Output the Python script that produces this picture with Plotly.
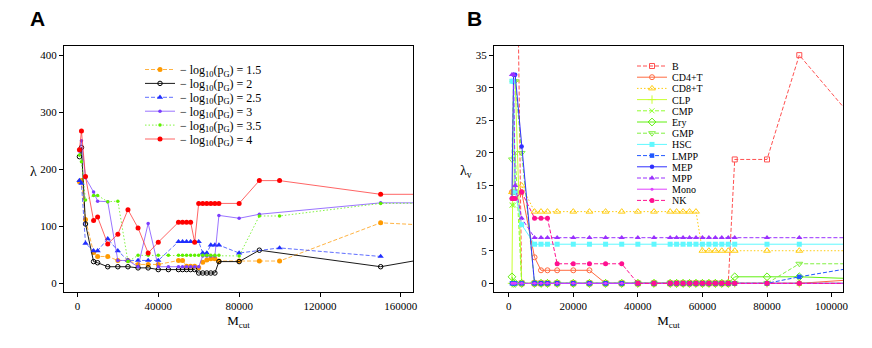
import plotly.graph_objects as go

SERIF = 'Liberation Serif'
SANS = 'Liberation Sans'
# the page body has an 8px margin, so the figure is drawn 16px smaller than the window
OFF = 8
W, H = 872 - 2 * OFF, 348 - 2 * OFF

# ---- panel A: lambda against M_cut, one line per -log10(pG) threshold
MCUT_A = [1000, 2000, 4000, 8000, 10000, 15000, 20000, 25000, 30000, 35000,
          40000, 45000, 50000, 52000, 54000, 56000, 58000, 60000, 62000, 64000,
          66000, 68000, 70000, 80000, 90000, 100000, 150000, 200000]
LAM_15 = [178, 180, 112, 54, 47, 47, 40, 40, 33, 33,
          33, None, 40, 40, 30, 30, 30, 27, 37, 41,
          43, 43, 39, 39, 39, 39, 106, 97]
LAM_20 = [222, 238, 104, 38, 36, 29, 29, 29, 27, 27,
          24, 24, 24, 24, 24, 24, 24, 18, 18, 18,
          18, 18, 38, 38, 58, None, 29, 60]
LAM_25 = [180, 175, 70, 57, 57, 78, 57, 40, 40, 40,
          40, None, 73, 73, 73, 73, 73, 73, 53, 53,
          67, 67, 67, 53, None, 62, 47, None]
LAM_30 = [232, 250, 185, 160, 144, 143, 40, 40, 29, 105,
          29, 29, 29, 29, 29, 29, 29, 29, 48, 48,
          48, 48, 119, 114, 121, None, 141, 141]
LAM_35 = [225, 213, 146, 154, 154, 143, 144, 38, 49, 49,
          49, 49, 49, 49, 49, 49, 49, 49, 49, 49,
          49, 49, 49, 48, 118, 118, 140, 141]
LAM_40 = [234, 267, 187, 110, 116, 69, 86, 129, 97, 53,
          72, None, 107, 107, 107, 107, 72, 140, 140, 140,
          140, 140, 140, 140, 180, 180, 156, 156]
THRESHOLDS = ['1.5', '2', '2.5', '3', '3.5', '4']

# ---- panel B: lambda_v per cell type
MCUT_B = [1000, 1500, 2000, 4000,
          8000, 10000, 12000, 15000,
          20000, 25000, 30000, 35000, 40000, 45000,
          50000, 52000, 54000, 56000, 58000, 60000, 62000, 64000, 66000, 68000, 70000,
          80000, 90000,
          150000, 200000]
CELL_TYPES = ['B', 'CD4+T', 'CD8+T', 'CLP', 'CMP', 'Ery', 'GMP',
              'HSC', 'LMPP', 'MEP', 'MPP', 'Mono', 'NK']
LV_B = [80, 78, 76, 0,  0, 0, 0, 0,  0, 0, 0, 0, 0, 0,
        0, 0, 0, 0, 0, 0, 0, 0, 0, 0, 19,  19, 35,  0, 0]
LV_CD4T = [14, 14, 14, 14,  4, 2, 2, 2,  2, 2, 0, 0, 0, 0,
           0, 0, 0, 0, 0, 0, 0, 0, 0, 0, 0,  0, 0,  2, 2]
LV_CD8T = [14, 14, 14, 15,  11, 11, 11, 11,  11, 11, 11, 11, 11, 11,
           11, 11, 11, 11, 11, 5, 5, 5, 5, 5, 5,  5, 5,  5, 5]
LV_CLP = [0, 31, 31, 0,  0, 0, 0, 0,  0, 0, 0, 0, 0, 0,
          0, 0, 0, 0, 0, 0, 0, 0, 0, 0, 0,  0, 0,  0, 0]
LV_CMP = [12, 12, 20, 0,  0, 0, 0, 0,  0, 0, 0, 0, 0, 0,
          0, 0, 0, 0, 0, 0, 0, 0, 0, 0, 0,  0, 0,  0, 0]
LV_ERY = [1, 0, 0, 0,  0, 0, 0, 0,  0, 0, 0, 0, 0, 0,
          0, 0, 0, 0, 0, 0, 0, 0, 0, 0, 1,  1, 1,  0, 0]
LV_GMP = [19, 31, 31, 20,  0, 0, 0, 0,  0, 0, 0, 0, 0, 0,
          0, 0, 0, 0, 0, 0, 0, 0, 0, 0, 0,  0, 3,  3, 3]
LV_HSC = [31, 31, 14, 9,  6, 6, 6, 6,  6, 6, 6, 6, 6, 6,
          6, 6, 6, 6, 6, 6, 6, 6, 6, 6, 6,  6, 6,  6, 6]
LV_LMPP = [0, 0, 0, 0,  0, 0, 0, 0,  0, 0, 0, 0, 0, 0,
           0, 0, 0, 0, 0, 0, 0, 0, 0, 0, 0,  0, 1,  6, 6]
LV_MEP = [13, 32, 32, 21,  0, 0, 0, 0,  0, 0, 0, 0, 0, 0,
          0, 0, 0, 0, 0, 0, 0, 0, 0, 0, 0,  0, 0,  0, 0]
LV_MPP = [32, 32, 15, 10,  7, 7, 7, 7,  7, 7, 7, 7, 7, 7,
          7, 7, 7, 7, 7, 7, 7, 7, 7, 7, 7,  7, 7,  7, 7]
LV_MONO = [0, 0, 0, 0,  0, 0, 0, 0,  0, 0, 0, 0, 0, 0,
           0, 0, 0, 0, 0, 0, 0, 0, 0, 0, 0,  0, 0,  0, 0]
LV_NK = [13, 13, 13, 14,  10, 10, 10, 3,  3, 3, 3, 3, 0, 0,
         0, 0, 0, 0, 0, 0, 0, 0, 0, 0, 0,  0, 0,  0, 0]

XTICKS_A = [0, 40000, 80000, 120000, 160000]
YTICKS_A = [0, 100, 200, 300, 400]
XTICKS_B = [0, 20000, 40000, 60000, 80000, 100000]
YTICKS_B = [0, 5, 10, 15, 20, 25, 30, 35]

DASH = '4px,2px'
DOT = '1.5px,2px'

# (values, line colour, marker colour, symbol, size, dash)
STYLE_A = [
    (LAM_15, 'rgba(255,160,20,0.8)', '#ff9a00', 'circle', 5, DASH),
    (LAM_20, 'rgba(0,0,0,0.9)', '#000000', 'circle-open', 4.5, 'solid'),
    (LAM_25, 'rgba(40,60,255,0.75)', '#1f2eff', 'triangle-up', 5.5, DASH),
    (LAM_30, 'rgba(120,70,255,0.75)', '#7a3cff', 'circle', 3.5, 'solid'),
    (LAM_35, 'rgba(100,240,20,0.8)', '#5ef000', 'circle', 3.5, DOT),
    (LAM_40, 'rgba(255,50,50,0.75)', '#ff0000', 'circle', 5, 'solid'),
]
STYLE_B = [
    (LV_B, '#ff5050', 'square-open', 5, DASH),
    (LV_CD4T, '#ff6a40', 'circle-open', 5, 'solid'),
    (LV_CD8T, '#ffcc10', 'triangle-up-open', 6, DOT),
    (LV_CLP, '#c8ff30', 'cross-thin-open', 6, 'solid'),
    (LV_CMP, '#90ff30', 'x-thin-open', 5, DASH),
    (LV_ERY, '#60f010', 'diamond-open', 6, 'solid'),
    (LV_GMP, '#80f040', 'triangle-down-open', 6, DASH),
    (LV_HSC, '#60f8ff', 'square', 5, 'solid'),
    (LV_LMPP, '#2058ff', 'square', 4.5, DASH),
    (LV_MEP, '#3030ff', 'circle', 4.5, 'solid'),
    (LV_MPP, '#9a30ff', 'triangle-up', 5.5, DASH),
    (LV_MONO, '#e040ff', 'circle', 3, 'solid'),
    (LV_NK, '#ff1090', 'circle', 5, DASH),
]


def px_x(p):
    # window pixel -> paper fraction
    return (p - OFF) / W


def px_y(p):
    return 1 - (p - OFF) / H


def marker_line(sym, col):
    return dict(width=1, color=col) if sym.endswith('open') else dict(width=0)


fig = go.Figure()
legends = {}
n = 0

for i, (vals, lc, mc, sym, size, dash) in enumerate(STYLE_A):
    n += 1
    lid = 'legend' if n == 1 else f'legend{n}'
    fig.add_trace(go.Scatter(
        x=MCUT_A, y=vals, mode='lines+markers', connectgaps=True,
        name=f'\u2212 log<sub>10</sub>(p<sub>G</sub>) = {THRESHOLDS[i]}',
        line=dict(color=lc, width=1, dash=dash),
        marker=dict(color=mc, symbol=sym, size=size, line=marker_line(sym, mc)),
        xaxis='x', yaxis='y', legend=lid))
    legends[lid] = dict(x=px_x(140), y=px_y(69.5 + i * 13.9), xanchor='left', yanchor='middle',
                        font=dict(family=SERIF, size=12, color='black'),
                        bgcolor='rgba(0,0,0,0)', itemwidth=30)

for i, (vals, col, sym, size, dash) in enumerate(STYLE_B):
    n += 1
    lid = f'legend{n}'
    fig.add_trace(go.Scatter(
        x=MCUT_B, y=vals, mode='lines+markers', name=CELL_TYPES[i],
        line=dict(color=col, width=1, dash=dash),
        marker=dict(color=col, symbol=sym, size=size, line=marker_line(sym, col)),
        xaxis='x2', yaxis='y2', legend=lid))
    legends[lid] = dict(x=px_x(632), y=px_y(66 + i * 11.2), xanchor='left', yanchor='middle',
                        font=dict(family=SERIF, size=10, color='black'),
                        bgcolor='rgba(0,0,0,0)', itemwidth=30)

axis_common = dict(showline=True, linecolor='black', linewidth=1, mirror=True,
                   ticks='outside', ticklen=4, tickcolor='black', showgrid=False,
                   zeroline=False, tickfont=dict(family=SERIF, size=11, color='black'),
                   tickmode='array', tickformat='d', automargin=False)
ydom = [px_y(292), px_y(46)]

fig.update_layout(
    width=W, height=H, template='none',
    margin=dict(l=0, r=0, t=0, b=0),
    paper_bgcolor='white', plot_bgcolor='white', showlegend=True,
    xaxis=dict(axis_common, domain=[px_x(64), px_x(413)], range=[-6630, 166000],
               tickvals=XTICKS_A, anchor='y',
               title=dict(text='M<sub>cut</sub>', standoff=4,
                          font=dict(family=SERIF, size=13, color='black'))),
    yaxis=dict(axis_common, domain=ydom, range=[-15.3, 416], tickvals=YTICKS_A, anchor='x'),
    xaxis2=dict(axis_common, domain=[px_x(494), px_x(843)], range=[-4560, 103540],
                tickvals=XTICKS_B, anchor='y2',
                title=dict(text='M<sub>cut</sub>', standoff=4,
                           font=dict(family=SERIF, size=13, color='black'))),
    yaxis2=dict(axis_common, domain=ydom, range=[-1.33, 36.4], tickvals=YTICKS_B, anchor='x2'),
    **legends,
)

labels = [
    ('A', 37.5, 18, SANS, 21, True),
    ('B', 474, 18, SANS, 21, True),
    ('\u03bb', 33, 171, SERIF, 14, False),
    ('\u03bb<sub>v</sub>', 466, 172, SERIF, 14, False),
]
for text, x, y, fam, size, bold in labels:
    fig.add_annotation(text=f'<b>{text}</b>' if bold else text, xref='paper', yref='paper',
                       x=px_x(x), y=px_y(y), xanchor='center', yanchor='middle',
                       showarrow=False, font=dict(family=fam, size=size, color='black'))

fig.write_html('out.html')
